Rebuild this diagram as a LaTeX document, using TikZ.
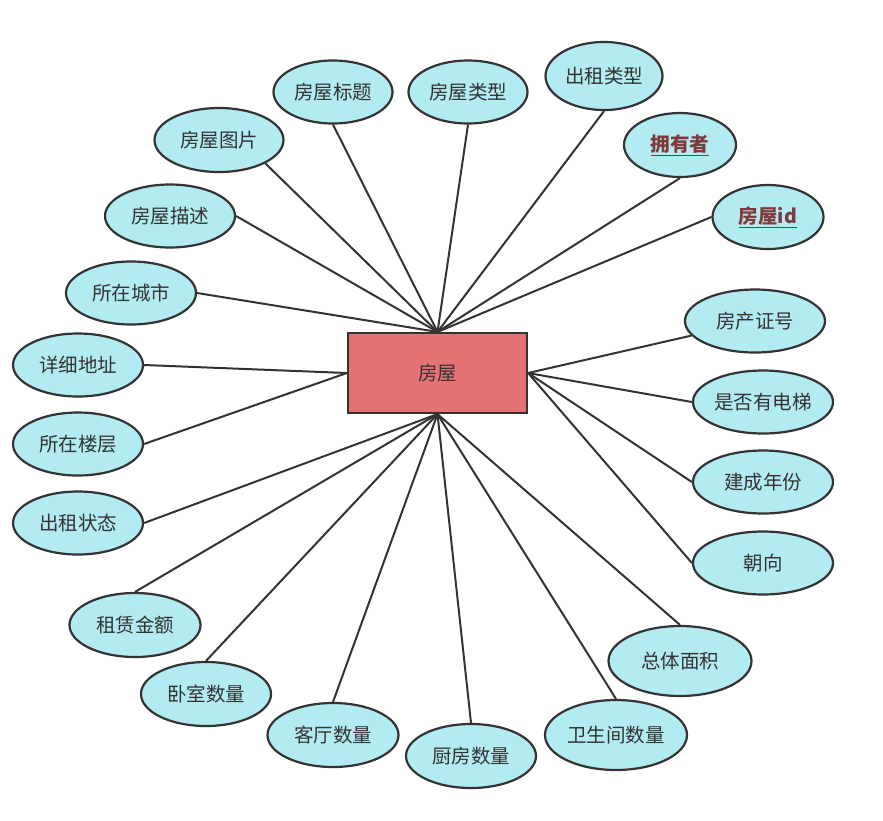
\documentclass[tikz,border=0pt]{standalone}
\usepackage{fontspec}
\setmainfont{Noto Sans CJK SC}
\usetikzlibrary{shapes.geometric}
\definecolor{attrfill}{HTML}{B3EBF2}
\definecolor{entfill}{HTML}{E57373}
\definecolor{edgecol}{HTML}{333333}
\definecolor{keycol}{HTML}{7F3A3A}
\tikzset{
  attr/.style={ellipse, draw=edgecol, line width=2.2pt, fill=attrfill, inner sep=0pt,
    minimum width=130pt, minimum height=63pt, text=edgecol, font=\fontsize{19.5}{22}\selectfont},
  keyattr/.style={attr, text=keycol, font=\fontsize{19.5}{22}\selectfont\bfseries},
  entity/.style={rectangle, draw=edgecol, line width=2.2pt, fill=entfill, inner sep=0pt,
    minimum width=179pt, minimum height=80pt, text=edgecol, font=\fontsize{19.5}{22}\selectfont},
  link/.style={draw=edgecol, line width=2pt}
}
\begin{document}
\begin{tikzpicture}[x=1pt,y=-1pt]
\useasboundingbox (0,0) rectangle (883,820);
\node[entity] (c) at (437.5,373) {房屋};
% top
\node[attr, minimum width=119pt] (t1) at (333,92) {房屋标题};
\node[attr, minimum width=119pt] (t2) at (468,92) {房屋类型};
\node[attr, minimum width=117pt, minimum height=68pt] (t3) at (604,76) {出租类型};
\node[keyattr, minimum width=112pt, minimum height=64pt] (t4) at (680,145) {\underline{拥有者}};
\node[keyattr, minimum width=111pt, minimum height=64pt] (t5) at (768,217) {\underline{房屋id}};
\node[attr, minimum width=129pt, minimum height=64pt] (t6) at (219,140) {房屋图片};
\node[attr] (t7) at (170,216) {房屋描述};
\node[attr] (t8) at (131,293) {所在城市};
% left
\node[attr] (l1) at (78,365) {详细地址};
\node[attr] (l2) at (78,444) {所在楼层};
\node[attr] (l3) at (78,523) {出租状态};
% bottom
\node[attr, minimum width=131pt, minimum height=64pt] (b1) at (135,625) {租赁金额};
\node[attr, minimum height=64pt] (b2) at (206,694) {卧室数量};
\node[attr, minimum width=131pt, minimum height=64pt] (b3) at (333,735) {客厅数量};
\node[attr, minimum height=64pt] (b4) at (471,756) {厨房数量};
\node[attr, minimum width=142pt, minimum height=70pt] (b5) at (616,735) {卫生间数量};
\node[attr, minimum width=143pt, minimum height=70pt] (b6) at (680,661) {总体面积};
% right
\node[attr, minimum width=140pt] (r1) at (763,563) {朝向};
\node[attr, minimum width=140pt] (r2) at (763,482) {建成年份};
\node[attr, minimum width=140pt] (r3) at (763,402) {是否有电梯};
\node[attr, minimum width=140pt] (r4) at (755,321) {房产证号};
% connectors
\draw[link] (t1.south) -- (c.north);
\draw[link] (t2.south) -- (c.north);
\draw[link] (t3.south) -- (c.north);
\draw[link] (t4.south) -- (c.north);
\draw[link] (t5.west) -- (c.north);
\draw[link] (t6.south east) -- (c.north);
\draw[link] (t7.east) -- (c.north);
\draw[link] (t8.east) -- (c.north);
\draw[link] (l1.east) -- (c.west);
\draw[link] (l2.east) -- (c.west);
\draw[link] (l3.east) -- (c.south);
\draw[link] (b1.north) -- (c.south);
\draw[link] (b2.north) -- (c.south);
\draw[link] (b3.north) -- (c.south);
\draw[link] (b4.north) -- (c.south);
\draw[link] (b5.north) -- (c.south);
\draw[link] (b6.north) -- (c.south);
\draw[link] (r1.west) -- (c.east);
\draw[link] (r2.west) -- (c.east);
\draw[link] (r3.west) -- (c.east);
\draw[link] (r4) -- (c.east);
\end{tikzpicture}
\end{document}
